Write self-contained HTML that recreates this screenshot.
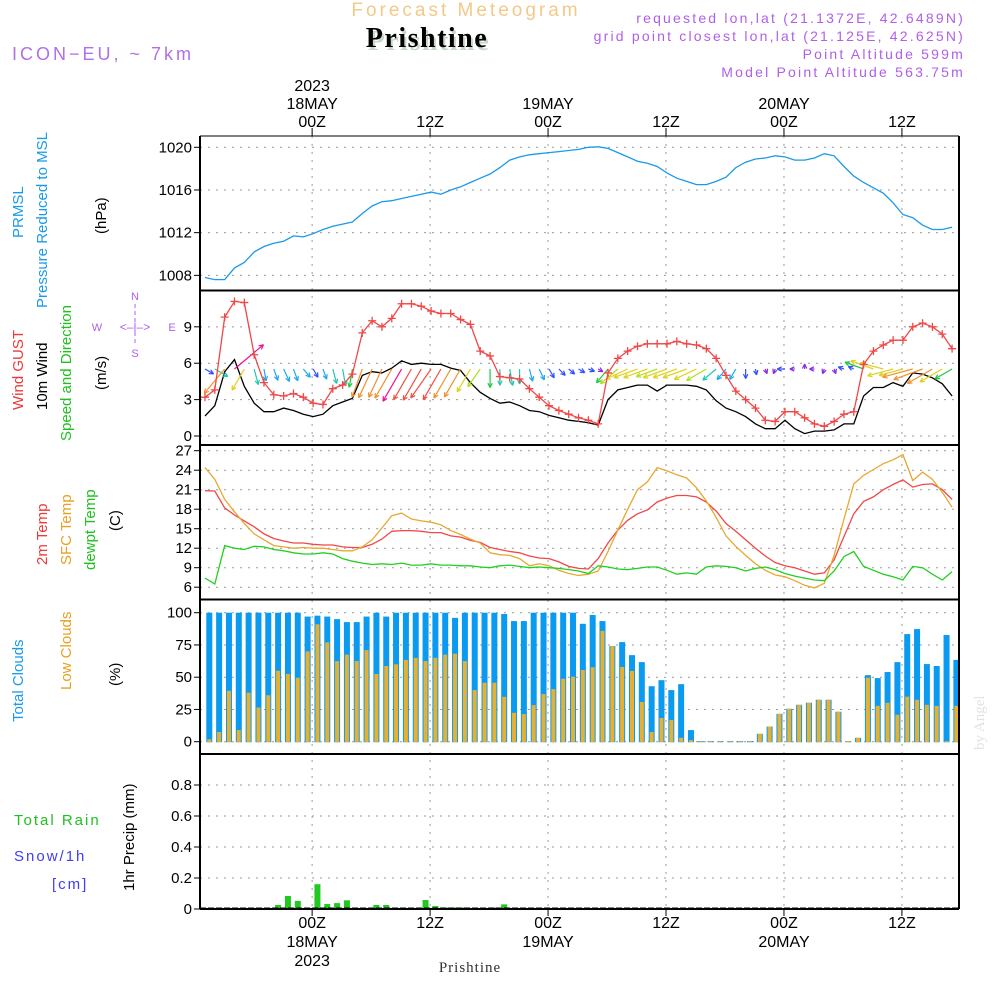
<!DOCTYPE html>
<html><head><meta charset="utf-8"><style>
html,body{margin:0;padding:0;background:#fff;}
svg{display:block;font-family:"Liberation Sans",sans-serif;}
</style></head><body>
<svg id="chart" width="1000" height="1000" viewBox="0 0 1000 1000" xmlns="http://www.w3.org/2000/svg">
<rect x="0" y="0" width="1000" height="1000" fill="#fff"/>
<g>
<text x="466" y="16" font-size="19" fill="#f3c98a" text-anchor="middle" letter-spacing="3">Forecast Meteogram</text>
<text x="429" y="50" font-size="28" font-weight="bold" font-family="Liberation Serif,serif" fill="#c8d8c8" text-anchor="middle" letter-spacing="1.5">Prishtine</text>
<text x="427" y="47" font-size="28" font-weight="bold" font-family="Liberation Serif,serif" fill="#000" text-anchor="middle" letter-spacing="1.5">Prishtine</text>
<text x="12" y="60" font-size="18" fill="#b070e8" letter-spacing="3">ICON−EU, ~ 7km</text>
<g font-size="14" fill="#b060e8" text-anchor="end" letter-spacing="2.2">
<text x="965" y="23">requested lon,lat (21.1372E, 42.6489N)</text>
<text x="965" y="41">grid point closest lon,lat (21.125E, 42.625N)</text>
<text x="965" y="59">Point Altitude 599m</text>
<text x="965" y="77">Model Point Altitude 563.75m</text>
</g>
</g>
<g id="labels" font-size="15">
<text transform="translate(23,238) rotate(-90)" fill="#1a9ae8">PRMSL</text>
<text transform="translate(47,308) rotate(-90)" fill="#1a9ae8">Pressure Reduced to MSL</text>
<text transform="translate(106,234) rotate(-90)" fill="#000">(hPa)</text>
<text transform="translate(23,410) rotate(-90)" fill="#f03838">Wind GUST</text>
<text transform="translate(47,410) rotate(-90)" fill="#000">10m Wind</text>
<text transform="translate(71,441) rotate(-90)" fill="#20c020">Speed and Direction</text>
<text transform="translate(106,390) rotate(-90)" fill="#000">(m/s)</text>
<g fill="#b060e8" font-size="11">
<text x="135" y="300" text-anchor="middle">N</text>
<text x="135" y="357" text-anchor="middle">S</text>
<text x="97" y="331" text-anchor="middle">W</text>
<text x="172" y="331" text-anchor="middle">E</text>
<text x="135" y="331" text-anchor="middle" font-size="12">&lt;–|–&gt;</text>
<line x1="135" y1="304" x2="135" y2="346" stroke="#b060e8" stroke-dasharray="4,3"/>
</g>
<text transform="translate(47,565) rotate(-90)" fill="#f03838">2m Temp</text>
<text transform="translate(71,565) rotate(-90)" fill="#e8a020">SFC Temp</text>
<text transform="translate(95,570) rotate(-90)" fill="#20c020">dewpt Temp</text>
<text transform="translate(120,531) rotate(-90)" fill="#000">(C)</text>
<text transform="translate(23,722) rotate(-90)" fill="#1a9ae8">Total Clouds</text>
<text transform="translate(71,690) rotate(-90)" fill="#e8a020">Low Clouds</text>
<text transform="translate(120,686) rotate(-90)" fill="#000">(%)</text>
<text x="14" y="825" fill="#20c020" letter-spacing="2">Total  Rain</text>
<text x="14" y="861" fill="#4040f0" letter-spacing="2">Snow/1h</text>
<text x="52" y="889" fill="#4040f0" letter-spacing="2">[cm]</text>
<text transform="translate(134,891) rotate(-90)" fill="#000">1hr Precip (mm)</text>
<text transform="translate(984,750) rotate(-90)" fill="#e0e4e0" font-family="Liberation Serif,serif">by Angel</text>
<text x="470" y="972" font-family="Liberation Serif,serif" fill="#333" text-anchor="middle" letter-spacing="1">Prishtine</text>
</g>
<g id="grid"></g><g id="marks"></g><g id="frame"></g>
</svg>
<script>
const pressure=[1007.8,1007.6,1007.6,1008.7,1009.2,1010.2,1010.7,1011.0,1011.2,1011.7,1011.6,1011.9,1012.3,1012.6,1012.8,1013.0,1013.8,1014.5,1014.9,1015.0,1015.2,1015.4,1015.6,1015.8,1015.6,1016.0,1016.3,1016.7,1017.1,1017.5,1018.1,1018.8,1019.1,1019.3,1019.4,1019.5,1019.6,1019.7,1019.8,1020.0,1020.05,1019.9,1019.5,1019.1,1018.7,1018.5,1018.2,1017.6,1017.1,1016.8,1016.5,1016.5,1016.8,1017.2,1018.1,1018.6,1018.9,1019.0,1019.2,1019.1,1018.8,1018.8,1019.0,1019.4,1019.2,1018.2,1017.3,1016.7,1016.2,1015.7,1014.8,1013.7,1013.4,1012.7,1012.3,1012.3,1012.5];
const gust=[3.2,3.8,9.8,11.1,11.0,6.7,4.4,3.4,3.3,3.5,3.2,2.7,2.6,3.9,4.2,5.1,8.5,9.5,9.0,9.7,10.9,10.9,10.7,10.3,10.1,10.1,9.6,9.2,7.0,6.6,4.9,4.8,4.7,3.9,3.2,2.5,2.1,1.8,1.5,1.3,1.0,5.2,6.4,7.0,7.4,7.6,7.6,7.6,7.8,7.6,7.5,7.2,6.4,5.0,3.7,3.0,2.3,1.3,1.2,2.0,2.0,1.5,1.0,0.8,1.2,1.8,2.0,5.9,7.0,7.5,7.9,7.9,9.0,9.3,9.0,8.4,7.2];
const wind=[1.65,2.5,5.3,6.3,4.1,2.7,2.0,2.0,2.3,2.1,1.8,1.6,1.8,2.5,2.8,3.1,5.0,5.3,5.2,5.6,6.2,5.9,6.0,5.9,5.9,5.6,5.4,4.4,3.6,3.1,2.7,2.8,2.5,2.1,2.0,1.7,1.5,1.3,1.2,1.1,0.9,3.0,3.8,4.0,4.2,4.2,3.7,4.2,4.2,4.2,4.1,3.8,2.9,2.3,2.0,1.6,1.0,0.6,0.6,1.3,0.6,0.2,0.4,0.4,0.5,1.0,1.0,3.3,4.0,4.0,4.4,4.1,5.2,5.1,4.8,4.3,3.3];
const windDir=[300,300,40,230,30,345,350,340,335,340,320,330,340,345,350,10,20,25,25,30,30,30,30,35,30,30,30,30,35,0,0,350,0,345,335,330,315,310,300,290,300,40,50,65,70,70,70,70,70,70,65,60,50,40,30,0,350,340,20,90,90,180,90,20,340,110,115,110,110,105,75,75,75,70,60,60,60];
const temp2m=[20.85,20.8,18.2,17.1,16.2,15.3,14.2,13.5,13.1,12.8,12.8,12.6,12.5,12.5,12.2,12.1,12.1,12.6,13.4,14.6,14.7,14.7,14.6,14.4,14.4,13.9,13.7,13.2,12.9,12.1,11.8,11.5,11.3,10.8,10.5,10.4,9.9,9.2,8.9,8.8,10.4,12.8,14.8,16.3,17.3,17.9,19.1,19.7,20.1,20.1,19.9,19.1,17.7,15.8,14.6,13.3,12.0,10.8,9.8,9.3,9.0,8.5,8.0,8.2,10.2,13.8,17.3,19.2,19.9,21.0,21.8,22.5,21.4,21.8,21.9,21.0,19.5];
const tempSfc=[24.4,22.6,19.5,17.6,15.8,14.2,13.3,12.4,12.2,12.0,12.1,12.0,12.0,11.8,11.6,11.6,12.2,13.3,15.1,17.0,17.4,16.5,16.2,16.0,15.6,14.7,14.1,13.4,12.8,11.3,11.0,10.9,10.4,9.3,9.6,9.3,8.6,8.1,7.8,8.0,8.5,11.5,14.8,18.0,21.0,22.2,24.4,23.9,23.3,22.8,21.3,19.3,16.7,13.9,12.3,10.9,9.6,8.6,7.9,7.6,7.0,6.3,5.9,6.6,10.9,16.5,21.9,23.2,24.1,25.0,25.6,26.4,22.4,23.7,22.6,20.6,18.3];
const dewpt=[7.4,6.5,12.4,12.0,11.8,12.3,12.2,11.8,11.6,11.3,11.1,11.1,11.3,11.1,10.4,10.0,9.7,9.5,9.6,9.5,9.7,9.4,9.4,9.6,9.4,9.4,9.3,9.3,9.1,9.0,9.3,9.4,9.2,9.0,9.1,9.0,8.9,8.7,8.5,8.1,9.3,9.1,8.8,8.7,8.9,9.1,9.1,8.6,8.0,8.2,8.0,9.1,9.3,9.2,9.0,8.5,8.9,9.1,8.7,8.1,7.7,7.4,7.1,7.0,8.5,10.7,11.5,9.2,8.6,8.0,7.6,7.1,9.2,9.0,8.0,7.1,8.4];
const totalClouds=[100,100,100,100,100,100,100,100,100,100,97,97.7,97,95,92.7,92.7,97,100,97,100,100,100,100,100,100,96,100,100,100,100,99,93.5,93.5,100,100,100,100,100,91.4,98.2,93.5,74.1,77.2,67.1,61.7,43,47.7,40,44.6,9,0.5,0.5,0.5,0.5,0.5,0.5,6.1,11.8,21.6,25.5,28.6,30.2,32.5,32.5,23.2,0.5,3,51.6,49.3,54,61.7,83.4,87.3,60.2,58.7,82.7,63.4];
const lowClouds=[1.9,7.5,39.5,9,38,26.5,36,55,52.5,49.6,70,91,77,62.5,67.5,62.5,71,52.5,58.7,60,63.4,65,62.5,65,67.5,68.2,62.5,40,45.7,45.7,34.8,22.4,21.4,28.4,36.9,40.8,48.8,50.4,55.6,57.7,85.9,74.1,57.9,54.8,30.8,7.5,18.4,16.8,3,1.2,0.3,0.3,0.3,0.3,0.3,0.3,6.1,11.8,21.6,25.5,28.6,30.2,32.5,32.5,23.2,0.5,3,49.6,27.8,30.2,20.9,34.9,32.5,28.6,27.8,0.5,27.8];
const precip=[0,0,0,0,0,0,0,0.026,0.084,0.052,0,0.16,0.032,0.038,0.056,0,0,0.026,0.026,0,0,0,0.058,0.019,0.01,0.01,0.01,0.003,0,0.01,0.03,0,0,0,0,0,0,0,0,0,0,0,0,0,0,0,0,0,0,0,0,0,0,0,0,0,0,0,0,0,0,0,0,0,0,0,0,0,0,0,0,0,0,0.003,0,0,0];
const pTicks=[1008,1012,1016,1020];
const wTicks=[0,3,6,9];
const tTicks=[6,9,12,15,18,21,24,27];
const cTicks=[0,25,50,75,100];
const rTicks=[0,0.2,0.4,0.6,0.8];
const rTickLabels=["0","0.2","0.4","0.6","0.8"];
const timeLabelsHour=["00Z","12Z","00Z","12Z","00Z","12Z"];
const timeLabelsDay=["18MAY","","19MAY","","20MAY",""];
const timeTicksIdx=[11,23,35,47,59,71];

const NS="http://www.w3.org/2000/svg";
const L=200,R=959,DX=9.83;
const xL=i=>205+DX*i, xB=i=>209.3+DX*i;
const yP=v=>147.3+(1020-v)*10.67, yW=v=>436-12.13*v, yT=v=>450.7+(27-v)*6.5, yC=v=>741.7-1.29*v, yR=v=>909-155*v;
const grid=document.getElementById('grid'),marks=document.getElementById('marks'),frame=document.getElementById('frame');
function mk(tag,attrs,parent){const e=document.createElementNS(NS,tag);for(const k in attrs)e.setAttribute(k,attrs[k]);parent.appendChild(e);return e;}
function txt(x,y,s,parent,extra){const e=mk('text',Object.assign({x:x,y:y,'font-size':15,fill:'#000'},extra||{}),parent);e.textContent=s;return e;}

const panels=[[136,290.5],[290.5,445],[445,599.5],[599.5,754],[754,909]];
timeTicksIdx.forEach((ti,k)=>{const x=xL(ti)-1;
 const g=mk('line',{x1:x,y1:136,x2:x,y2:909,stroke:'#999','stroke-dasharray':'2,6'},grid);
 
 
 mk('line',{x1:x,y1:128,x2:x,y2:136,stroke:'#000'},frame);
 mk('line',{x1:x,y1:909,x2:x,y2:916,stroke:'#000'},frame);
 const t1=txt(x,127,timeLabelsHour[k],frame,{'text-anchor':'middle','font-size':16});
 
 
 const t2=txt(x,928,timeLabelsHour[k],frame,{'text-anchor':'middle','font-size':16});
 
 
 if(timeLabelsDay[k]){txt(x,109,timeLabelsDay[k],frame,{'text-anchor':'middle','font-size':16});txt(x,947,timeLabelsDay[k],frame,{'text-anchor':'middle','font-size':16});}
});
txt(xL(11)-1,91,"2023",frame,{'text-anchor':'middle','font-size':16});
txt(xL(11)-1,966,"2023",frame,{'text-anchor':'middle','font-size':16});
function yAxis(ticks,labels,f,name){ticks.forEach((t,k)=>{const y=f(t);
 const g=mk('line',{x1:L,y1:y,x2:R,y2:y,stroke:'#999','stroke-dasharray':'2,6'},grid);
 
 
 mk('line',{x1:L-6,y1:y,x2:L,y2:y,stroke:'#000'},frame);
 const tl=txt(L-8,y+5,labels?labels[k]:String(t),frame,{'text-anchor':'end'});
 
 });}
yAxis(pTicks,null,yP,'pressure');yAxis(wTicks,null,yW,'wind');yAxis(tTicks,null,yT,'temp');yAxis(cTicks,null,yC,'cloud');yAxis(rTicks,rTickLabels,yR,'precip');

function line(arr,fy,color,name){let d='';for(let i=0;i<arr.length;i++)d+=(i?'L':'M')+xL(i).toFixed(1)+','+fy(arr[i]).toFixed(1);
 const p=mk('path',{d:d,fill:'none',stroke:color,'stroke-width':1.3},marks);
 
 return p;}
line(pressure,yP,'#1a9ae8','pressure-line');
for(let i=0;i<totalClouds.length;i++){const x=xB(i);
 const b=mk('rect',{x:Math.max(L,x-3),y:yC(totalClouds[i]),width:Math.min(6,R-(x-3)),height:yC(0)-yC(totalClouds[i])+0.5,fill:'#0a9af0'},marks);
 
 
 const o=mk('rect',{x:x-2,y:yC(lowClouds[i]),width:Math.min(4,R-(x-2)),height:yC(0)-yC(lowClouds[i])+0.5,fill:'#e8b030'},marks);
 
 }
for(let i=0;i<precip.length;i++){if(precip[i]<=0)continue;const x=xB(i);
 const b=mk('rect',{x:x-3,y:yR(precip[i]),width:6,height:yR(0)-yR(precip[i]),fill:'#20c820'},marks);
 
 }
mk('line',{x1:L,y1:908,x2:R,y2:908,stroke:'#000','stroke-dasharray':'6,2'},marks);
line(temp2m,yT,'#f04848','temp-2m-line');
line(tempSfc,yT,'#e8a830','temp-sfc-line');
line(dewpt,yT,'#20d020','dewpoint-line');
line(wind,yW,'#000','wind-speed-line');
function spdColor(s){if(s<1)return'#8a2be2';if(s<1.8)return'#3050ff';if(s<2.5)return'#20a8f0';if(s<3)return'#20c8b0';if(s<3.6)return'#20c840';if(s<4)return'#b0e020';if(s<4.5)return'#e0d020';if(s<5.7)return'#f09030';if(s<6.1)return'#f05040';return'#f01090';}
for(let i=0;i<wind.length;i++){const s=wind[i],a=(windDir[i]+180)*Math.PI/180,len=Math.max(5,6*s);
 const x0=xL(i),y0=369,x1=x0+len*Math.sin(a),y1=y0-len*Math.cos(a),c=spdColor(s);
 const g=mk('g',{stroke:c,'stroke-width':1.2,fill:'none'},marks);
 
 
 mk('line',{x1:x0,y1:y0,x2:x1,y2:y1},g);
 const h=5;[0.45,-0.45].forEach(d=>{mk('line',{x1:x1,y1:y1,x2:x1-h*Math.sin(a+d),y2:y1+h*Math.cos(a+d)},g);});}
line(gust,yW,'#f04848','gust-line');
for(let i=0;i<gust.length;i++){const x=xL(i),y=yW(gust[i]);
 const g=mk('path',{d:`M${x-4},${y}H${x+4}M${x},${y-4}V${y+4}`,stroke:'#f04848','stroke-width':1.3},marks);
 
 }
mk('line',{x1:L,y1:136,x2:R,y2:136,stroke:'#000','stroke-width':1},frame);
panels.forEach((p,k)=>{if(k>0)mk('line',{x1:L,y1:p[0],x2:R,y2:p[0],stroke:'#000','stroke-width':2},frame);});
mk('line',{x1:L,y1:909,x2:R,y2:909,stroke:'#000','stroke-width':2},frame);
mk('line',{x1:L,y1:136,x2:L,y2:909,stroke:'#000','stroke-width':2},frame);
mk('line',{x1:R,y1:136,x2:R,y2:909,stroke:'#000','stroke-width':2},frame);
</script>
</body></html>
